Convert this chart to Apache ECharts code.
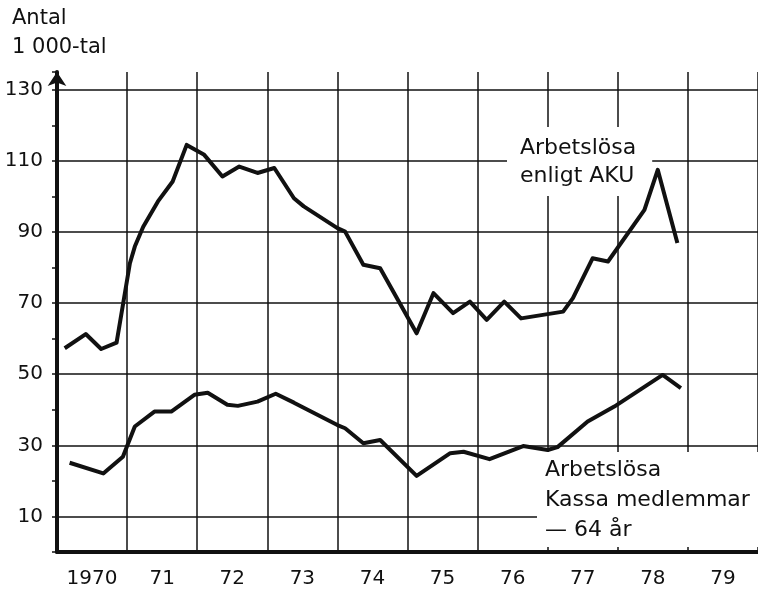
<!DOCTYPE html>
<html>
<head>
<meta charset="utf-8">
<title>Arbetslösa 1970-79</title>
<script src="https://cdn.jsdelivr.net/npm/echarts/dist/echarts.min.js"></script>
<style>
  html, body { margin: 0; padding: 0; background: #fff; }
  #chart { width: 758px; height: 596px; }
</style>
</head>
<body>
<div id="chart"></div>
<script>
// year labels on the x axis
var years = ['1970', '71', '72', '73', '74', '75', '76', '77', '78', '79']

// Arbetslösa enligt AKU (1 000-tal)
var akuTime = [1970.11, 1970.41, 1970.63, 1970.85, 1971.04, 1971.11, 1971.23, 1971.44, 1971.65, 1971.85,
  1972.10, 1972.36, 1972.60, 1972.86, 1973.10, 1973.38, 1973.52, 1974.00, 1974.11, 1974.37,
  1974.61, 1975.13, 1975.37, 1975.65, 1975.89, 1976.13, 1976.38, 1976.62, 1977.22, 1977.36,
  1977.64, 1977.86, 1978.38, 1978.57, 1978.85]
var akuValue = [57.3, 61.3, 57.1, 58.9, 81.2, 85.9, 91.5, 98.6, 104.2, 114.5,
  111.7, 105.6, 108.4, 106.6, 108.0, 99.5, 97.2, 91.1, 90.1, 80.8,
  79.8, 61.5, 72.8, 67.2, 70.4, 65.3, 70.4, 65.7, 67.6, 71.4,
  82.6, 81.7, 96.2, 107.5, 86.9]

// Arbetslösa kassamedlemmar -64 år
var kassaTime = [1970.18, 1970.66, 1970.94, 1971.11, 1971.39, 1971.63, 1971.96, 1972.15, 1972.43, 1972.58,
  1972.86, 1973.12, 1973.38, 1974.00, 1974.11, 1974.37, 1974.61, 1975.13, 1975.61, 1975.80,
  1976.17, 1976.65, 1977.00, 1977.14, 1977.57, 1977.95, 1978.64, 1978.90]
var kassaValue = [25.1, 22.1, 26.8, 35.3, 39.5, 39.5, 44.2, 44.8, 41.4, 41.1,
  42.3, 44.5, 42.0, 35.7, 34.8, 30.6, 31.5, 21.4, 27.8, 28.2,
  26.1, 29.8, 28.7, 29.5, 36.7, 40.9, 49.8, 46.1]

function pairs(t, v) {
  return t.map(function (x, i) { return [x, v[i]] })
}

var labelFont = 'DejaVu Sans'
var ink = '#111'

var chart = echarts.init(document.getElementById('chart'))

chart.setOption({
  animation: false,
  backgroundColor: '#fff',
  grid: { left: 57, right: -3, top: 72, bottom: 44 },
  xAxis: [
    {
      type: 'category',
      data: years,
      boundaryGap: true,
      axisLine: { lineStyle: { color: ink, width: 4 } },
      axisTick: { length: 6, lineStyle: { color: ink, width: 1.5 } },
      axisLabel: { interval: 0, margin: 17, color: ink, fontFamily: labelFont, fontSize: 20 },
      splitLine: { show: true, interval: 0, lineStyle: { color: ink, width: 1.5 } }
    },
    {
      type: 'value',
      min: 1970,
      max: 1980,
      show: false
    }
  ],
  yAxis: {
    type: 'value',
    min: 0,
    max: 135,
    interval: 10,
    axisLine: {
      show: true,
      symbol: ['none', 'arrow'],
      symbolSize: [14, 14],
      lineStyle: { color: ink, width: 4 }
    },
    axisTick: { show: true, length: 5, lineStyle: { color: ink, width: 1.5 } },
    axisLabel: {
      margin: 14,
      color: ink,
      fontFamily: labelFont,
      fontSize: 20,
      formatter: function (v) { return v % 20 === 10 ? String(v) : '' }
    },
    // only every other line (10, 30, ... 130) is drawn
    splitLine: { show: true, lineStyle: { color: ['rgba(0,0,0,0)', ink], width: 1.5 } }
  },
  series: [
    {
      name: 'Arbetslösa enligt AKU',
      type: 'line',
      xAxisIndex: 1,
      data: pairs(akuTime, akuValue),
      showSymbol: false,
      lineStyle: { color: ink, width: 4, join: 'round' },
      z: 20
    },
    {
      name: 'Arbetslösa Kassa medlemmar — 64 år',
      type: 'line',
      xAxisIndex: 1,
      data: pairs(kassaTime, kassaValue),
      showSymbol: false,
      lineStyle: { color: ink, width: 4, join: 'round' },
      z: 20
    }
  ],
  graphic: [
    {
      type: 'text', left: 12, top: 8,
      style: { text: 'Antal', fill: ink, font: '21px "DejaVu Sans"' }
    },
    {
      type: 'text', left: 12, top: 37,
      style: { text: '1 000-tal', fill: ink, font: '21px "DejaVu Sans"' }
    },
    {
      type: 'text', left: 507, top: 127, z: 10,
      style: {
        text: 'Arbetslösa\nenligt AKU',
        fill: ink,
        font: '22px "DejaVu Sans"',
        lineHeight: 28,
        backgroundColor: '#fff',
        padding: [7, 16, 6, 13]
      }
    },
    {
      type: 'text', left: 537, top: 452, z: 10,
      style: {
        text: 'Arbetslösa\nKassa medlemmar\n— 64 år',
        fill: ink,
        font: '22px "DejaVu Sans"',
        lineHeight: 30,
        backgroundColor: '#fff',
        padding: [3, 20, 2, 8]
      }
    }
  ]
})
</script>
</body>
</html>
